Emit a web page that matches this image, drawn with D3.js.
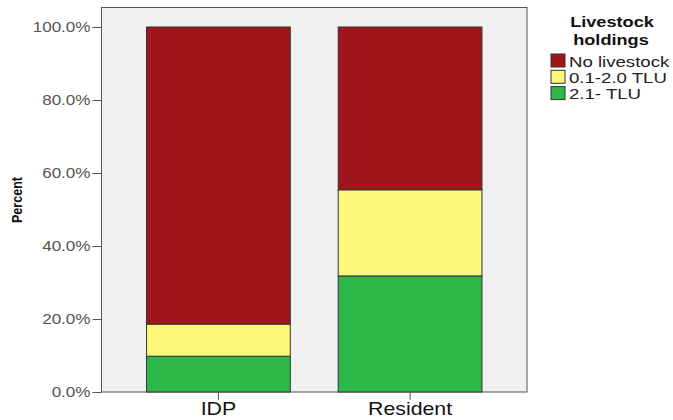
<!DOCTYPE html>
<html>
<head>
<meta charset="utf-8">
<script src="https://cdn.jsdelivr.net/npm/d3@7"></script>
<style>
  body { margin: 0; background: #fff; }
  text { font-family: "Liberation Sans", Arial, sans-serif; }
</style>
</head>
<body>
<div id="chart"></div>
<script>
// data
var groups = ["IDP", "Resident"];
var holdings = ["2.1- TLU", "0.1-2.0 TLU", "No livestock"];
var greenVals = [9.8, 31.8];
var yellowVals = [8.8, 23.6];
var redVals = [81.4, 44.6];
var yTicks = [0, 20, 40, 60, 80, 100];
var legendOrder = ["No livestock", "0.1-2.0 TLU", "2.1- TLU"];

var W = 673, H = 420;
var frame = {left: 101.5, right: 527, top: 7.5, bottom: 392};

var svg = d3.select("#chart").append("svg")
    .attr("width", W)
    .attr("height", H);

var x = d3.scaleBand()
    .domain(groups)
    .range([frame.left, frame.right])
    .paddingInner(0.25)
    .paddingOuter(0.235);

var y = d3.scaleLinear()
    .domain([0, 100])
    .range([392, 27]);

var color = d3.scaleOrdinal()
    .domain(holdings)
    .range(["#2eb84a", "#faf77a", "#a1161a"]);

// stack the series
var rows = groups.map(function(g, i) {
  return {group: g, "2.1- TLU": greenVals[i], "0.1-2.0 TLU": yellowVals[i], "No livestock": redVals[i]};
});
var stacked = d3.stack().keys(holdings)(rows);

// plot background
svg.append("rect")
    .attr("x", frame.left)
    .attr("y", frame.top)
    .attr("width", frame.right - frame.left)
    .attr("height", frame.bottom - frame.top)
    .style("fill", "#f0f0f0")
    .style("stroke", "#555")
    .style("stroke-width", 1);

// bars
svg.selectAll(".layer")
    .data(stacked)
  .enter().append("g")
    .attr("class", "layer")
    .style("fill", function(d) { return color(d.key); })
  .selectAll("rect")
    .data(function(d) { return d; })
  .enter().append("rect")
    .attr("x", function(d) { return x(d.data.group); })
    .attr("y", function(d) { return y(d[1]); })
    .attr("width", x.bandwidth())
    .attr("height", function(d) { return y(d[0]) - y(d[1]); })
    .style("stroke", "#333")
    .style("stroke-width", 1);

// y axis
var yAxis = svg.append("g")
    .attr("transform", "translate(" + frame.left + ",0)")
    .call(d3.axisLeft(y).tickValues(yTicks).tickSize(9).tickPadding(2)
      .tickFormat(function(d) { return d.toFixed(1) + "%"; }));
yAxis.select(".domain").remove();
yAxis.selectAll("line").style("stroke", "#555");
yAxis.selectAll("text")
    .attr("class", "stretch")
    .attr("data-k", 1.1)
    .style("font-size", "15.5px")
    .style("fill", "#555")
    .style("font-family", "'Liberation Sans', Arial, sans-serif");

// x axis
var xAxis = svg.append("g")
    .attr("transform", "translate(0," + frame.bottom + ")")
    .call(d3.axisBottom(x).tickSize(8).tickPadding(0));
xAxis.select(".domain").remove();
xAxis.selectAll("line").style("stroke", "#555");
xAxis.selectAll("text")
    .attr("class", "stretch")
    .attr("data-k", 1.12)
    .attr("dy", null)
    .attr("y", 23)
    .style("font-size", "19px")
    .style("fill", "#111")
    .style("font-family", "'Liberation Sans', Arial, sans-serif");

// y axis title
svg.append("text")
    .attr("transform", "translate(22,200) rotate(-90)")
    .attr("text-anchor", "middle")
    .attr("textLength", 46)
    .attr("lengthAdjust", "spacingAndGlyphs")
    .style("font-size", "15.5px")
    .style("font-weight", "bold")
    .style("fill", "#111")
    .text("Percent");

// legend
var legend = svg.append("g");
legend.append("text")
    .attr("class", "stretch")
    .attr("data-k", 1.17)
    .attr("x", 612).attr("y", 27)
    .attr("text-anchor", "middle")
    .style("font-size", "15.5px")
    .style("font-weight", "bold")
    .style("fill", "#111")
    .text("Livestock");
legend.append("text")
    .attr("class", "stretch")
    .attr("data-k", 1.17)
    .attr("x", 611).attr("y", 45)
    .attr("text-anchor", "middle")
    .style("font-size", "15.5px")
    .style("font-weight", "bold")
    .style("fill", "#111")
    .text("holdings");

var item = legend.selectAll(".item")
    .data(legendOrder)
  .enter().append("g")
    .attr("class", "item")
    .attr("transform", function(d, i) { return "translate(551," + (54 + i * 16.3) + ")"; });
item.append("rect")
    .attr("width", 14).attr("height", 13)
    .style("fill", function(d) { return color(d); })
    .style("stroke", "#333");
item.append("text")
    .attr("class", "stretch")
    .attr("data-k", 1.2)
    .attr("x", 18).attr("y", 12.5)
    .style("font-size", "15.5px")
    .style("fill", "#222")
    .text(function(d) { return d; });

// the original text is drawn a little wide
svg.selectAll("text.stretch").each(function() {
  var len = this.getComputedTextLength();
  var k = +this.getAttribute("data-k") || 1.1;
  d3.select(this)
    .attr("textLength", len * k)
    .attr("lengthAdjust", "spacingAndGlyphs");
});
</script>
</body>
</html>
